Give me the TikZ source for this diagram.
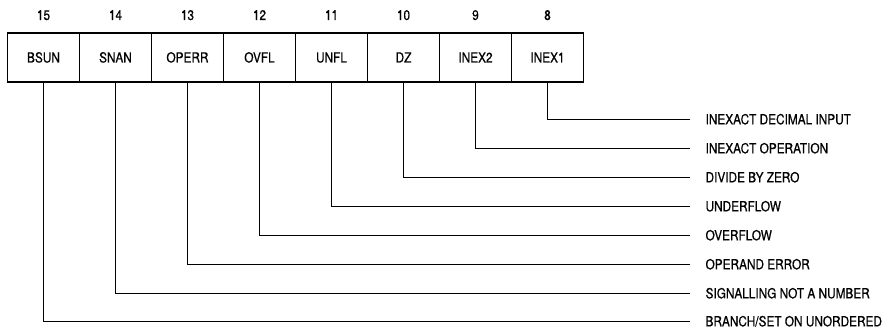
\documentclass[tikz,border=0pt]{standalone}
\usepackage{fontspec}
\setmainfont{TeX Gyre Heros}[FakeStretch=0.85,FakeBold=0.6]
\begin{document}
\begin{tikzpicture}[x=1pt,y=-1pt,line width=1.2pt,
  font=\fontsize{13.9}{16}\selectfont,
  cell/.style={draw,minimum width=72pt,minimum height=49pt,inner sep=0pt,text height=10pt,text depth=0pt},
  bitnum/.style={inner sep=0pt,text height=10pt,text depth=0pt},
  desc/.style={anchor=west,inner sep=0pt,text height=10pt,text depth=0pt},
  conn/.style={shorten >=15pt}]
\useasboundingbox (0,0) rectangle (891,328);
\foreach \k/\t [count=\i from 0] in {15/BSUN,14/SNAN,13/OPERR,12/OVFL,11/UNFL,10/DZ,9/INEX2,8/INEX1}{
  \node[cell] (c\k) at ({43.5+\i*72},57.5) {\t};
  \node[bitnum] at ({43.5+\i*72},15) (n\k) {\k};
}
\foreach \k/\yy/\t in {8/119.3/{INEXACT DECIMAL INPUT},9/148.3/{INEXACT OPERATION},10/177.3/{DIVIDE BY ZERO},11/206.3/{UNDERFLOW},12/235.3/{OVERFLOW},13/264.3/{OPERAND ERROR},14/293.3/{SIGNALLING NOT A NUMBER},15/321.3/{BRANCH/SET ON UNORDERED}}{
  \node[desc] (d\k) at (705,\yy) {\t};
  \draw[conn] (c\k.south) |- (d\k.west);
}
\end{tikzpicture}
\end{document}
